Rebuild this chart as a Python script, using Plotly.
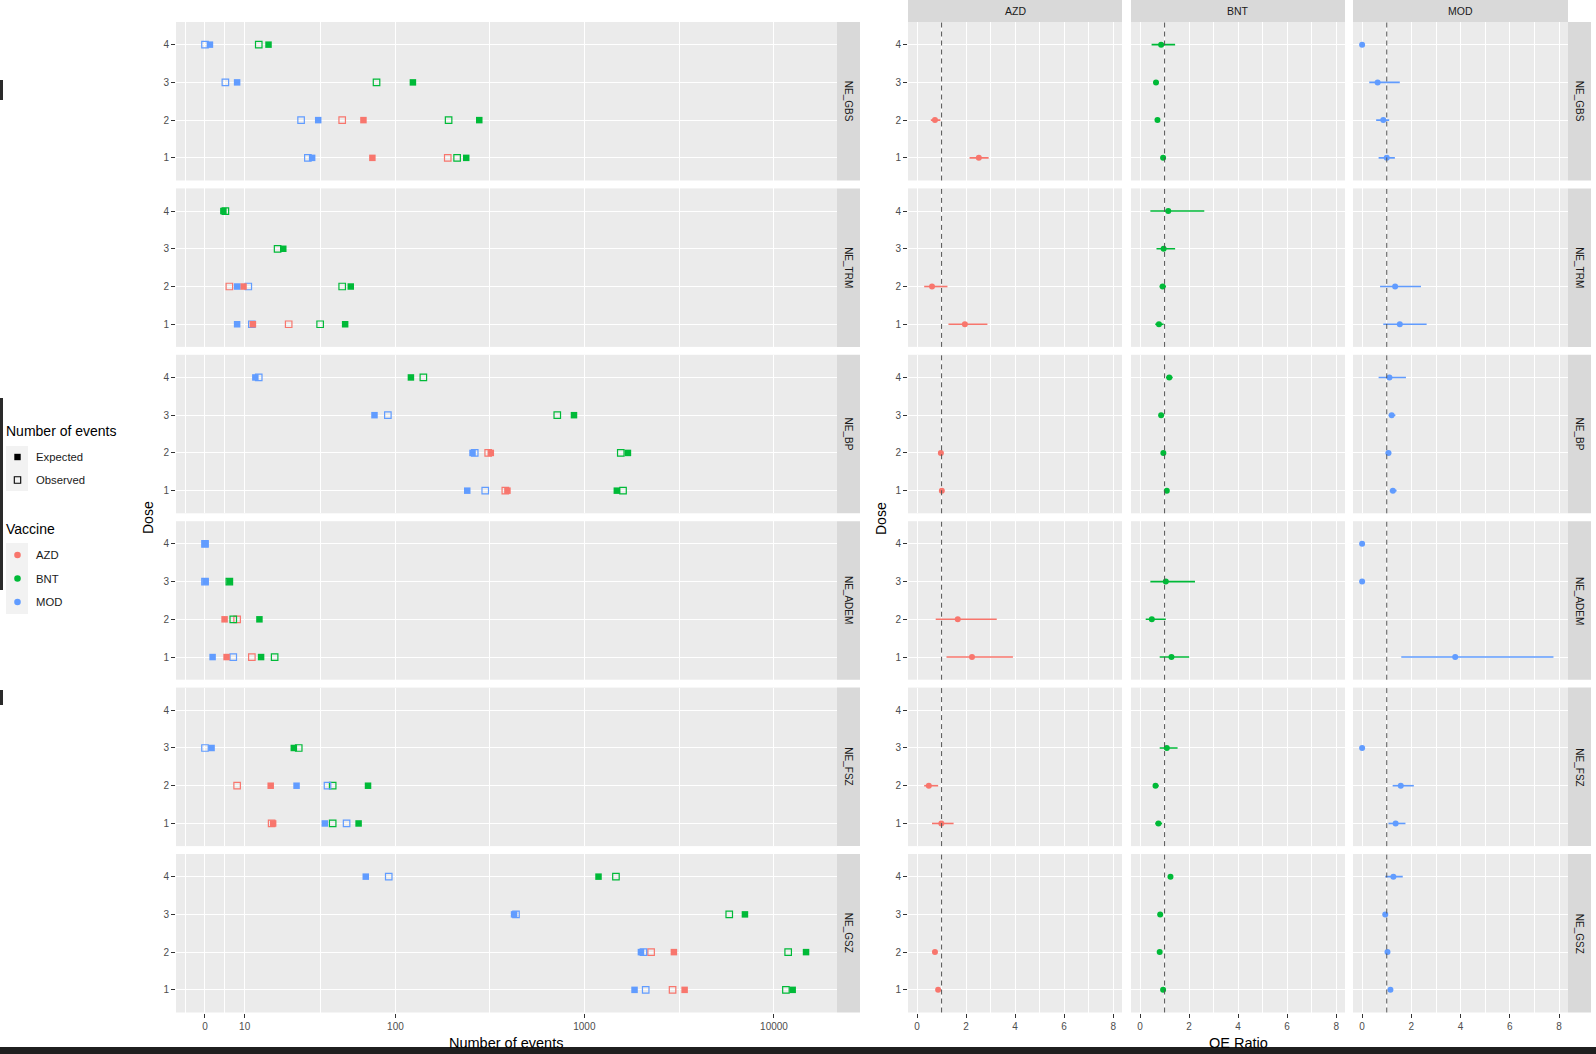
import math
import plotly.graph_objects as go

W, H = 1596, 1054
FONT = "Liberation Sans, Arial, sans-serif"

OUTCOMES = ["NE_GBS", "NE_TRM", "NE_BP", "NE_ADEM", "NE_FSZ", "NE_GSZ"]
VACCINES = ["AZD", "BNT", "MOD"]
DOSES = [1, 2, 3, 4]
VACCINE_COLORS = ["#F8766D", "#00BA38", "#619CFF"]

# ---- Number of events: one row per outcome (OUTCOMES order), values for dose 1..4
AZD_OBSERVED = [
    [190, 51, None, None],
    [24, 6, None, None],
    [383, 311, None, None],
    [12, 8, None, None],
    [18, 8, None, None],
    [2920, 2250, None, None],
]
AZD_EXPECTED = [
    [75, 67, None, None],
    [12.3, 9.7, None, None],
    [393, 321, None, None],
    [5.3, 4.8, None, None],
    [18.5, 17.7, None, None],
    [3380, 2967, None, None],
]
BNT_OBSERVED = [
    [213, 192, 79, 14],
    [38, 51, 20, 5],
    [1600, 1557, 720, 141],
    [19, 7, 6, None],
    [45, 45, 28, None],
    [11560, 11880, 5810, 1468],
]
BNT_EXPECTED = [
    [238, 279, 124, 17],
    [53, 57, 22, 4.5],
    [1484, 1698, 882, 121],
    [14.7, 14.2, 6.1, None],
    [63, 71, 26, None],
    [12550, 14760, 7030, 1188],
]
MOD_OBSERVED = [
    [32, 29, 5, 0],
    [12, 11, None, None],
    [300, 264, 91, 14],
    [7, None, 0, 0],
    [54, 42, 0, None],
    [2107, 2050, 436, 92],
]
MOD_EXPECTED = [
    [34, 37, 8, 1.2],
    [8, 8, None, None],
    [241, 257, 77, 13],
    [1.85, None, 0.1, 0.05],
    [40.5, 27.1, 1.6, None],
    [1840, 1988, 426, 69],
]

# ---- OE ratio with confidence interval, one row per outcome, dose 1..4
AZD_OE = [
    [2.52, 0.73, None, None],
    [1.95, 0.61, None, None],
    [1.01, 0.97, None, None],
    [2.24, 1.66, None, None],
    [0.99, 0.48, None, None],
    [0.86, 0.73, None, None],
]
AZD_LOW = [
    [2.14, 0.56, None, None],
    [1.28, 0.29, None, None],
    [0.93, 0.88, None, None],
    [1.20, 0.76, None, None],
    [0.61, 0.29, None, None],
    [0.83, 0.70, None, None],
]
AZD_HIGH = [
    [2.92, 0.95, None, None],
    [2.87, 1.24, None, None],
    [1.09, 1.07, None, None],
    [3.91, 3.25, None, None],
    [1.49, 0.86, None, None],
    [0.89, 0.76, None, None],
]
BNT_OE = [
    [0.94, 0.71, 0.65, 0.86],
    [0.77, 0.92, 0.96, 1.15],
    [1.09, 0.95, 0.86, 1.19],
    [1.28, 0.48, 1.05, None],
    [0.75, 0.63, 1.09, None],
    [0.94, 0.80, 0.82, 1.24],
]
BNT_LOW = [
    [0.85, 0.63, 0.57, 0.47],
    [0.62, 0.80, 0.67, 0.42],
    [1.04, 0.90, 0.80, 1.06],
    [0.80, 0.23, 0.42, None],
    [0.62, 0.54, 0.80, None],
    [0.92, 0.79, 0.80, 1.17],
]
BNT_HIGH = [
    [1.04, 0.80, 0.74, 1.43],
    [0.96, 1.06, 1.43, 2.62],
    [1.14, 1.00, 0.92, 1.33],
    [2.00, 1.05, 2.24, None],
    [0.90, 0.76, 1.53, None],
    [0.96, 0.82, 0.84, 1.30],
]
MOD_OE = [
    [1.00, 0.86, 0.63, 0.0],
    [1.53, 1.34, None, None],
    [1.25, 1.07, 1.20, 1.11],
    [3.78, None, 0.0, 0.0],
    [1.36, 1.57, 0.0, None],
    [1.15, 1.03, 0.94, 1.27],
]
MOD_LOW = [
    [0.67, 0.57, 0.29, 0.0],
    [0.86, 0.73, None, None],
    [1.12, 0.96, 1.08, 0.67],
    [1.59, None, 0.0, 0.0],
    [1.07, 1.24, 0.0, None],
    [1.10, 0.99, 0.88, 0.94],
]
MOD_HIGH = [
    [1.33, 1.10, 1.53, 0.0],
    [2.62, 2.39, None, None],
    [1.40, 1.18, 1.35, 1.78],
    [7.77, None, 0.0, 0.0],
    [1.76, 2.10, 0.0, None],
    [1.20, 1.07, 1.00, 1.65],
]

EVENT_TICKS = [0, 10, 100, 1000, 10000]
EVENT_TICK_TEXT = ["0", "10", "100", "1000", "10000"]
OE_TICKS = [0, 2, 4, 6, 8]
OE_MINOR = [1, 3, 5, 7]
OE_REFERENCE = 1

OBSERVED = [AZD_OBSERVED, BNT_OBSERVED, MOD_OBSERVED]
EXPECTED = [AZD_EXPECTED, BNT_EXPECTED, MOD_EXPECTED]
OE = [AZD_OE, BNT_OE, MOD_OE]
LOW = [AZD_LOW, BNT_LOW, MOD_LOW]
HIGH = [AZD_HIGH, BNT_HIGH, MOD_HIGH]


def plog(v):
    """pseudo-log transform (sigma = 10)"""
    return None if v is None else math.asinh(v / 20.0)


# ---- layout geometry (pixels)
ROW_TOP0, ROW_STEP, PANEL_H = 22, 166.4, 158.5
COL_X = [(176, 837), (908, 1122), (1131, 1345), (1353, 1568)]
STRIP_X = [(837, 860), (1568, 1591)]
LEFT_RANGE = [-0.352, 7.673]
RIGHT_RANGE = [-0.37, 8.36]
TICKFONT = dict(family=FONT, size=10, color="#4D4D4D")


def px_x(a, b):
    return [a / W, b / W]


def px_y(top, bottom):
    return [1 - bottom / H, 1 - top / H]


def sfx(k):
    return "" if k == 1 else str(k)


def label(x, y, text, size, color="black", angle=0, xanchor="center"):
    return dict(x=x / W, y=1 - y / H, xref="paper", yref="paper", text=text, showarrow=False,
                xanchor=xanchor, yanchor="middle", textangle=angle,
                font=dict(family=FONT, size=size, color=color))


def prect(x0, x1, top, bottom, **kw):
    d = dict(type="rect", xref="paper", yref="paper", x0=x0 / W, x1=x1 / W,
             y0=1 - bottom / H, y1=1 - top / H)
    d.update(kw)
    return d


fig = go.Figure()

major_left = [plog(v) for v in EVENT_TICKS]
minor_left = [major_left[0] - (major_left[1] - major_left[0]) / 2] + [
    (major_left[i] + major_left[i + 1]) / 2 for i in range(len(major_left) - 1)
]

axes = {}
shapes = []
annotations = []
for r in range(6):
    top = ROW_TOP0 + r * ROW_STEP
    ydom = px_y(top, top + PANEL_H)
    for c in range(4):
        k = r * 4 + c + 1
        s = sfx(k)
        x0, x1 = COL_X[c]
        bottom = r == 5
        if c == 0:
            xa = dict(range=LEFT_RANGE, tickmode="array", tickvals=major_left, ticktext=EVENT_TICK_TEXT,
                      minor=dict(tickmode="array", tickvals=minor_left, showgrid=True,
                                 gridcolor="white", gridwidth=0.7))
        else:
            xa = dict(range=RIGHT_RANGE, tickmode="array", tickvals=OE_TICKS,
                      ticktext=[str(t) for t in OE_TICKS],
                      minor=dict(tickmode="array", tickvals=OE_MINOR, showgrid=True,
                                 gridcolor="white", gridwidth=0.7))
        xa.update(domain=px_x(x0, x1), anchor="y" + s, showgrid=True, gridcolor="white", gridwidth=1.4,
                  zeroline=False, showline=False, showticklabels=bottom,
                  ticks="outside" if bottom else "", ticklen=4, tickwidth=1, tickcolor="#333333",
                  tickfont=TICKFONT, fixedrange=True)
        show_y = c in (0, 1)
        ya = dict(domain=ydom, anchor="x" + s, range=[0.4, 4.6], tickmode="array", tickvals=DOSES,
                  ticktext=[str(d) for d in DOSES], showgrid=True, gridcolor="white", gridwidth=1.4,
                  zeroline=False, showline=False, showticklabels=show_y,
                  ticks="outside" if show_y else "", ticklen=4, tickwidth=1, tickcolor="#333333",
                  tickfont=TICKFONT, fixedrange=True)
        axes["xaxis" + s] = xa
        axes["yaxis" + s] = ya
        if c > 0:
            shapes.append(dict(type="line", xref="x" + s, yref="y" + s + " domain",
                               x0=OE_REFERENCE, x1=OE_REFERENCE, y0=0, y1=1, layer="above",
                               line=dict(color="#555555", width=1, dash="5px,4px")))
    # right strips
    for (sx0, sx1) in STRIP_X:
        shapes.append(prect(sx0, sx1, top, top + PANEL_H, fillcolor="#D9D9D9", line=dict(width=0)))
        annotations.append(label((sx0 + sx1) / 2, top + PANEL_H / 2, OUTCOMES[r], 10, "#1A1A1A", angle=90))

# top strips for vaccine facets
for c in range(1, 4):
    x0, x1 = COL_X[c]
    shapes.append(prect(x0, x1, 0, 22, fillcolor="#D9D9D9", line=dict(width=0)))
    annotations.append(label((x0 + x1) / 2, 10.5, VACCINES[c - 1], 10.5, "#1A1A1A"))

# ---- traces: number of events
for r in range(6):
    s = sfx(r * 4 + 1)
    for v in range(3):
        col = VACCINE_COLORS[v]
        fig.add_trace(go.Scatter(
            x=[plog(val) for val in OBSERVED[v][r]], y=DOSES, mode="markers",
            marker=dict(symbol="square-open", size=6.5, color=col, line=dict(width=1.2, color=col)),
            xaxis="x" + s, yaxis="y" + s, showlegend=False, cliponaxis=False,
            name=VACCINES[v] + " observed"))
    for v in range(3):
        col = VACCINE_COLORS[v]
        fig.add_trace(go.Scatter(
            x=[plog(val) for val in EXPECTED[v][r]], y=DOSES, mode="markers",
            marker=dict(symbol="square", size=6.5, color=col, line=dict(width=0)),
            xaxis="x" + s, yaxis="y" + s, showlegend=False, cliponaxis=False,
            name=VACCINES[v] + " expected"))

# ---- traces: OE ratio with CI
for r in range(6):
    for v in range(3):
        s = sfx(r * 4 + 2 + v)
        oe, lo, hi = OE[v][r], LOW[v][r], HIGH[v][r]
        plus = [None if o is None else h - o for o, h in zip(oe, hi)]
        minus = [None if o is None else o - l for o, l in zip(oe, lo)]
        col = VACCINE_COLORS[v]
        fig.add_trace(go.Scatter(
            x=oe, y=DOSES, mode="markers",
            marker=dict(symbol="circle", size=6, color=col),
            error_x=dict(type="data", symmetric=False, array=plus, arrayminus=minus,
                         color=col, thickness=1.6, width=0),
            xaxis="x" + s, yaxis="y" + s, showlegend=False, name=VACCINES[v]))

# ---- axis titles
annotations += [
    label(506, 1043, "Number of events", 14.5),
    label(1238, 1043, "OE Ratio", 14.5),
    label(148, 518, "Dose", 14, angle=-90),
    label(881, 518, "Dose", 14, angle=-90),
]

# ---- legends (drawn manually, ggplot style)
annotations.append(label(4, 431, "Number of events", 14, xanchor="left"))
shapes.append(prect(6, 28, 446, 491, fillcolor="#F2F2F2", line=dict(width=0)))
KEY_X = 17.5
for i, (name, filled) in enumerate([("Expected", True), ("Observed", False)]):
    cy = 457 + 23 * i
    shapes.append(prect(KEY_X - 3.2, KEY_X + 3.2, cy - 3.2, cy + 3.2,
                        fillcolor="black" if filled else "rgba(0,0,0,0)",
                        line=dict(color="black", width=0 if filled else 1.1)))
    annotations.append(label(34, cy, name, 11.3, "#1A1A1A", xanchor="left"))

annotations.append(label(4, 529, "Vaccine", 14, xanchor="left"))
shapes.append(prect(6, 28, 543, 614, fillcolor="#F2F2F2", line=dict(width=0)))
for i, name in enumerate(VACCINES):
    cy = 555 + 23.5 * i
    shapes.append(dict(type="circle", xref="paper", yref="paper", x0=(KEY_X - 3.3) / W, x1=(KEY_X + 3.3) / W,
                       y0=1 - (cy + 3.3) / H, y1=1 - (cy - 3.3) / H,
                       fillcolor=VACCINE_COLORS[i], line=dict(width=0)))
    annotations.append(label(34, cy, name, 11.3, "#1A1A1A", xanchor="left"))

# screenshot frame: dark band at the bottom and dark bits on the left edge
shapes.append(prect(0, W, 1047, H, fillcolor="#1F1F1F", line=dict(width=0), layer="above"))
for (t, b) in [(80, 100), (398, 590), (690, 705)]:
    shapes.append(prect(0, 3, t, b, fillcolor="#2A2A2A", line=dict(width=0), layer="above"))

fig.update_layout(
    width=W, height=H, margin=dict(l=0, r=0, t=0, b=0),
    paper_bgcolor="white", plot_bgcolor="#EBEBEB",
    showlegend=False, font=dict(family=FONT),
    shapes=shapes, annotations=annotations,
    **axes,
)

fig.write_html("out.html")
